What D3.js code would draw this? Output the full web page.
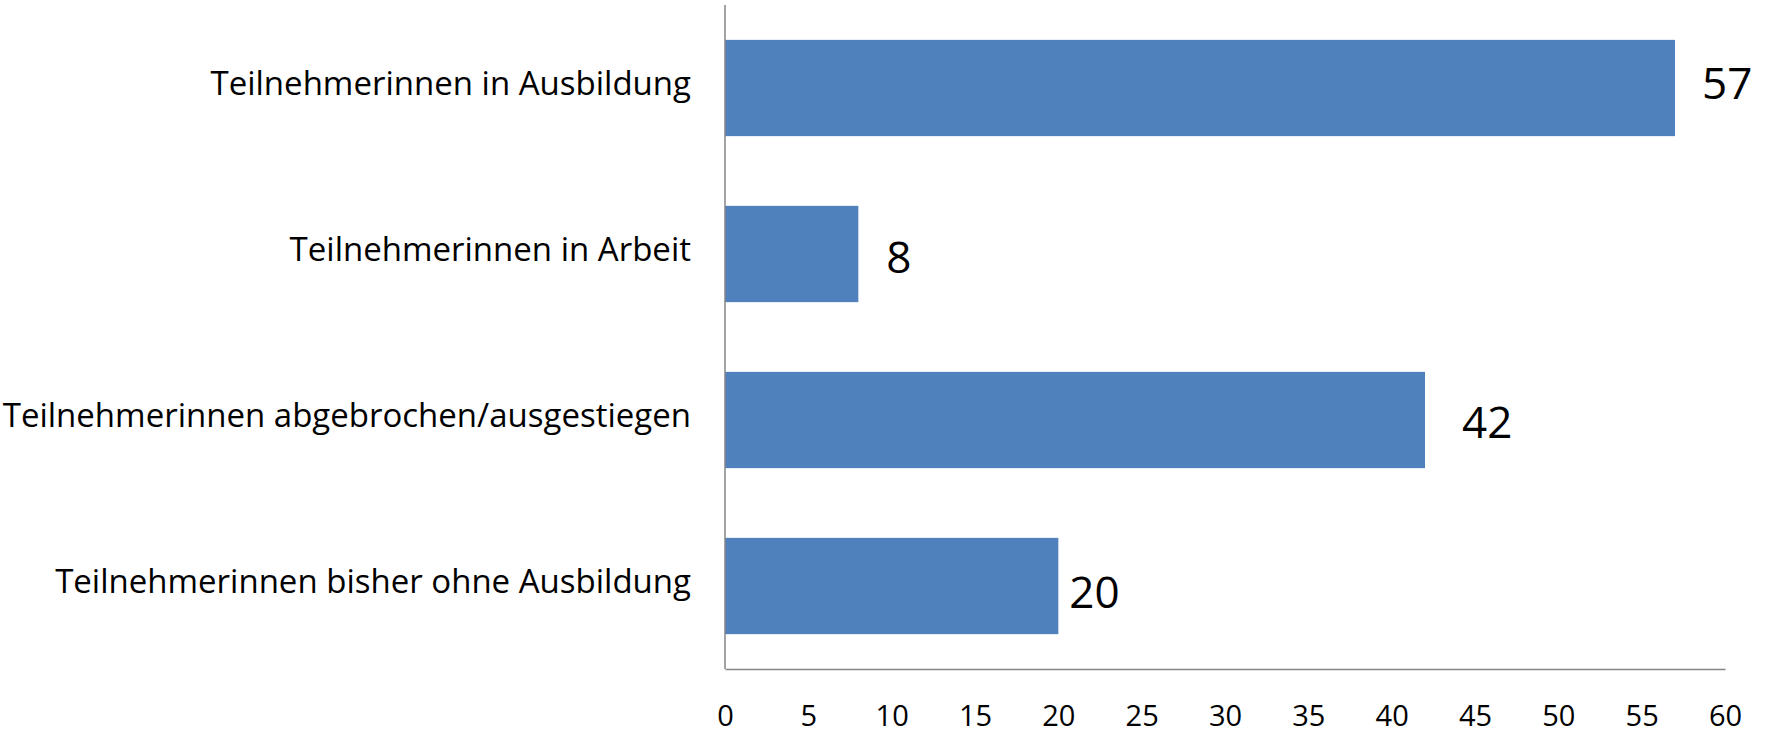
<!DOCTYPE html>
<html>
<head>
<meta charset="utf-8">
<script src="https://cdn.jsdelivr.net/npm/d3@7"></script>
<style>
  body { margin: 0; background: #fff; }
  svg { display: block; }
</style>
</head>
<body>
<div id="container"><svg></svg></div>
<script>
let width = 1790
let height = 734
let fontFamily = "'Open Sans', 'DejaVu Sans', sans-serif"

// data
let categories = [
    'Teilnehmerinnen in Ausbildung',
    'Teilnehmerinnen in Arbeit',
    'Teilnehmerinnen abgebrochen/ausgestiegen',
    'Teilnehmerinnen bisher ohne Ausbildung'
]
let values = [57, 8, 42, 20]
let x_ticks = [0, 5, 10, 15, 20, 25, 30, 35, 40, 45, 50, 55, 60]

// data labels were nudged by hand in the original, keep the offsets
let label_dx = [27, 28, 37, 11]
let label_dy = [-5, 3, 2, 6]

function draw_main() {
    let padding = { 'left': 725, 'right': 65, 'top': 5, 'bottom': 65 };
    let svg = d3.select('#container')
        .select('svg')
        .attr('width', width)
        .attr('height', height)
        .style('font-family', fontFamily);

    let x = d3.scaleLinear()
        .domain([0, 60])
        .range([padding.left, width - padding.right]);

    let y = d3.scaleBand()
        .domain(categories)
        .range([padding.top, height - padding.bottom])
        .paddingInner(0.42)
        .paddingOuter(0.21);

    // bars
    svg.append('g')
        .selectAll('rect')
        .data(values)
        .enter().append('rect')
        .attr('x', x(0))
        .attr('y', (d, i) => y(categories[i]))
        .attr('width', d => x(d) - x(0))
        .attr('height', y.bandwidth())
        .style('fill', '#4f81bd');

    // x axis
    let axis_x = d3.axisBottom(x)
        .tickValues(x_ticks)
        .tickSize(0)
        .tickPadding(36)
        .tickFormat(d => d);
    let gx = svg.append('g')
        .attr('transform', `translate(0, ${height - padding.bottom})`)
        .call(axis_x);
    gx.select('.domain').attr('stroke', '#868686').attr('stroke-width', 1.5);
    gx.selectAll('text')
        .attr('font-family', fontFamily)
        .attr('font-size', '29px')
        .attr('fill', '#000');

    // y axis
    let axis_y = d3.axisLeft(y)
        .tickSize(0)
        .tickPadding(34);
    let gy = svg.append('g')
        .attr('transform', `translate(${padding.left}, 0)`)
        .call(axis_y);
    gy.select('.domain')
        .attr('stroke', '#868686')
        .attr('stroke-width', 1.5)
        .attr('d', `M0,${padding.top}V${height - padding.bottom}`);
    gy.selectAll('text')
        .attr('font-family', fontFamily)
        .attr('font-size', '33px')
        .attr('fill', '#000')
        .attr('dy', '0.22em');

    // value labels
    svg.append('g')
        .selectAll('text')
        .data(values)
        .enter().append('text')
        .attr('x', (d, i) => x(d) + label_dx[i])
        .attr('y', (d, i) => y(categories[i]) + y.bandwidth() / 2 + label_dy[i])
        .attr('dy', '0.36em')
        .attr('font-size', '44px')
        .attr('fill', '#000')
        .text(d => d);
}

draw_main();
</script>
</body>
</html>
